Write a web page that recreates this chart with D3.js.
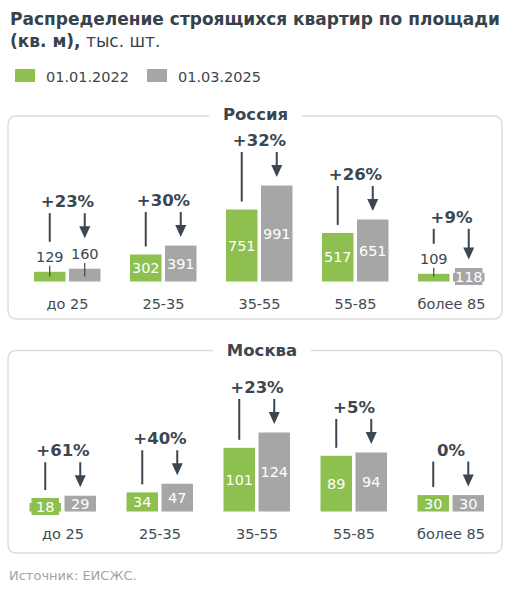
<!DOCTYPE html>
<html><head><meta charset="utf-8">
<script src="https://cdn.jsdelivr.net/npm/d3@7/dist/d3.min.js"></script>
<style>body{margin:0;background:#fff}svg{display:block;font-family:"DejaVu Sans",Verdana,sans-serif}</style>
</head><body>
<svg id="c" width="514" height="600"></svg>
<script>
// ---- data ----
const categories = ["до 25", "25-35", "35-55", "55-85", "более 85"];
const seriesNames = ["01.01.2022", "01.03.2025"];
const russia2022 = [129, 302, 751, 517, 109];
const russia2025 = [160, 391, 991, 651, 118];
const russiaChange = ["+23%", "+30%", "+32%", "+26%", "+9%"];
const moscow2022 = [18, 34, 101, 89, 30];
const moscow2025 = [29, 47, 124, 94, 30];
const moscowChange = ["+61%", "+40%", "+23%", "+5%", "0%"];
const titleBold = "Распределение строящихся квартир по площади";
const titleBold2 = "(кв. м),";
const titleNormal2 = " тыс. шт.";
const sourceText = "Источник: ЕИСЖС.";

// ---- styles ----
const GREEN = "#8dc04f", GRAY = "#a6a6a6", DARK = "#3b4650", BORDER = "#dddddd";
const colors = [GREEN, GRAY];
const svg = d3.select("#c");

// title
const t1 = svg.append("text").attr("x", 10).attr("y", 25).attr("font-size", 17).attr("font-weight", "bold").attr("fill", "#37424b").text(titleBold);
const t2 = svg.append("text").attr("x", 10).attr("y", 47).attr("font-size", 17).attr("fill", "#37424b");
t2.append("tspan").attr("font-weight", "bold").text(titleBold2);
t2.append("tspan").text(titleNormal2);

// legend
const legX = [15, 147];
seriesNames.forEach((s, i) => {
  svg.append("rect").attr("x", legX[i]).attr("y", 69).attr("width", 20).attr("height", 13).attr("fill", colors[i]);
  svg.append("text").attr("x", legX[i] + 31).attr("y", 82).attr("font-size", 14.5).attr("fill", DARK).text(s);
});

function panel(cfg) {
  const g = svg.append("g");
  // title
  const tt = g.append("text").attr("x", cfg.titleX).attr("y", cfg.titleY).attr("text-anchor", "middle")
    .attr("font-size", 16.5).attr("font-weight", "bold").attr("fill", DARK).text(cfg.name);
  const tw = tt.node().getComputedTextLength();
  const gapL = cfg.titleX - tw / 2 - 14, gapR = cfg.titleX + tw / 2 + 14;
  // box with gap
  const x0 = cfg.box[0], y0 = cfg.box[1], x1 = cfg.box[0] + cfg.box[2], y1 = cfg.box[1] + cfg.box[3], r = 9;
  const p = `M${gapL},${y0} L${x0 + r},${y0} Q${x0},${y0} ${x0},${y0 + r} L${x0},${y1 - r} Q${x0},${y1} ${x0 + r},${y1} L${x1 - r},${y1} Q${x1},${y1} ${x1},${y1 - r} L${x1},${y0 + r} Q${x1},${y0} ${x1 - r},${y0} L${gapR},${y0}`;
  g.append("path").attr("d", p).attr("fill", "none").attr("stroke", BORDER).attr("stroke-width", 1.5);

  const x = d3.scaleBand().domain(categories).range(cfg.xRange).padding(0);
  const y = d3.scaleLinear().domain(cfg.yDomain).range([cfg.base, cfg.top]);
  const inner = d3.scaleBand().domain([0, 1]).range([-33.5, 33]).paddingInner(0.1);
  const bw = inner.bandwidth();

  categories.forEach((c, ci) => {
    const cx = x(c) + x.bandwidth() / 2;
    const vals = [cfg.s1[ci], cfg.s2[ci]];
    const tops = [];
    vals.forEach((v, si) => {
      const bx = cx + inner(si);
      const by = y(v);
      const h = cfg.base - by;
      g.append("rect").attr("x", bx).attr("y", by).attr("width", bw).attr("height", h).attr("fill", colors[si]);
      const mode = cfg.outside.includes(ci + "-" + si) ? "out" : (h < 15 ? "box" : "in");
      const mx = bx + bw / 2;
      if (mode === "in") {
        g.append("text").attr("x", mx).attr("y", (by + cfg.base) / 2).attr("dy", "0.36em").attr("text-anchor", "middle")
          .attr("font-size", 14.5).attr("fill", "#fff").text(v);
        tops.push(by);
      } else if (mode === "box") {
        const bc = cfg.base - 5;
        g.append("rect").attr("x", bx + 2).attr("y", bc - 8.5).attr("width", bw - 4).attr("height", 17).attr("fill", colors[si]);
        g.append("text").attr("x", mx).attr("y", bc).attr("dy", "0.36em").attr("text-anchor", "middle")
          .attr("font-size", 14.5).attr("fill", "#fff").text(v);
        tops.push(Math.min(by, bc - 8.5));
      } else {
        const lc = by - 15;
        g.append("line").attr("x1", mx).attr("x2", mx).attr("y1", lc + 9).attr("y2", cfg.base - 5).attr("stroke", DARK).attr("stroke-width", 1.2);
        g.append("text").attr("x", mx).attr("y", lc).attr("dy", "0.36em").attr("text-anchor", "middle")
          .attr("font-size", 14.5).attr("fill", DARK).text(v);
        tops.push(lc - 7);
      }
    });
    // annotation
    const gx = cx + inner(0) + bw / 2, ax = cx + inner(1) + bw / 2;
    const tip = tops[1] - 8.5;
    const lineEnd = tops[0] - 8;
    const start = Math.min(tip - 25, lineEnd - 15);
    g.append("line").attr("x1", gx).attr("x2", gx).attr("y1", start).attr("y2", lineEnd).attr("stroke", DARK).attr("stroke-width", 2);
    g.append("line").attr("x1", ax).attr("x2", ax).attr("y1", start).attr("y2", tip - 10).attr("stroke", DARK).attr("stroke-width", 2);
    g.append("path").attr("d", `M${ax - 5.5},${tip - 12} L${ax + 5.5},${tip - 12} L${ax},${tip} Z`).attr("fill", DARK);
    g.append("text").attr("x", cx).attr("y", start - 12).attr("dy", "0.36em").attr("text-anchor", "middle")
      .attr("font-size", 16.5).attr("font-weight", "bold").attr("fill", DARK).text(cfg.change[ci]);
    // category label
    g.append("text").attr("x", cx).attr("y", cfg.base + 27).attr("text-anchor", "middle")
      .attr("font-size", 14.5).attr("fill", "#414b53").text(c);
  });
}

panel({name: "Россия", titleX: 255.5, titleY: 119.5, box: [8, 116, 494, 203],
  xRange: [19.5, 499.5], yDomain: [32, 991], base: 281.5, top: 185.5,
  s1: russia2022, s2: russia2025, change: russiaChange, outside: ["0-0", "0-1", "4-0"]});
panel({name: "Москва", titleX: 262, titleY: 355.5, box: [8, 350.5, 494, 202.5],
  xRange: [14.5, 499.5], yDomain: [5.3, 124], base: 511.5, top: 432.5,
  s1: moscow2022, s2: moscow2025, change: moscowChange, outside: []});

svg.append("text").attr("x", 9).attr("y", 580).attr("font-size", 13).attr("fill", "#a3a3a3").text(sourceText);
</script>
</body></html>
